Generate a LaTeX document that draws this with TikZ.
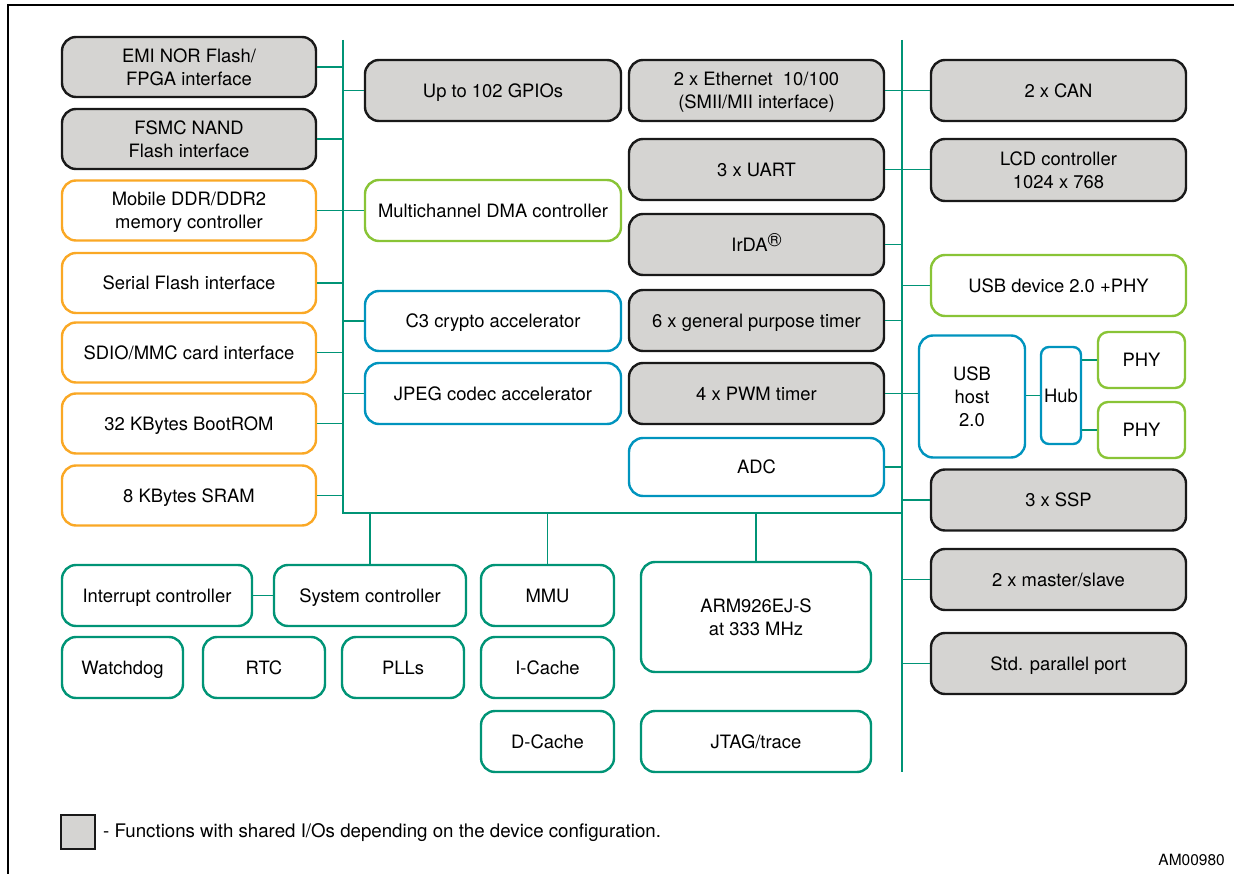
\documentclass[tikz,border=0pt]{standalone}
\usepackage{fontspec}
\setmainfont{TeX Gyre Heros}
\usetikzlibrary{calc}

\definecolor{busteal}{RGB}{0,148,118}
\definecolor{sharedgray}{RGB}{213,212,210}
\definecolor{memorange}{RGB}{250,168,37}
\definecolor{dmagreen}{RGB}{137,196,54}
\definecolor{accblue}{RGB}{0,148,190}

\begin{document}
\begin{tikzpicture}[x=1pt, y=-1pt,
  blk/.style={draw, rounded corners=14pt, line width=2.4pt, align=center,
              inner sep=0pt, text depth=0pt, font=\fontsize{18.4}{23}\selectfont},
  shared/.style={blk, draw=black!90, fill=sharedgray},
  memif/.style={blk, draw=memorange, fill=white},
  dmabox/.style={blk, draw=dmagreen, fill=white},
  accbox/.style={blk, draw=accblue, fill=white},
  corebox/.style={blk, draw=busteal, fill=white},
  sz/.style 2 args={minimum width=#1pt, minimum height=#2pt},
  bus/.style={draw=busteal, line width=1.9pt},
  link/.style={draw=busteal, line width=1.6pt}]

\useasboundingbox (0,0) rectangle (1234,874);

% outer frame (top and left edges)
\draw[line width=2.2pt] (8,874) -- (8,5) -- (1234,5);

% left column: external memory interfaces
\node[shared, sz={254}{60}] (emi)    at (189,67)    {EMI NOR Flash/\\FPGA interface};
\node[shared, sz={254}{60}] (fsmc)   at (189,139)   {FSMC NAND\\Flash interface};
\node[memif,  sz={254}{60}] (ddr)    at (189,210.5) {Mobile DDR/DDR2\\memory controller};
\node[memif,  sz={254}{60}] (sflash) at (189,283)   {Serial Flash interface};
\node[memif,  sz={254}{60}] (sdio)   at (189,352.5) {SDIO/MMC card interface};
\node[memif,  sz={254}{60}] (brom)   at (189,423.5) {32 KBytes BootROM};
\node[memif,  sz={254}{60}] (sram)   at (189,495.5) {8 KBytes SRAM};

% inner left column
\node[shared, sz={256}{61}] (gpio) at (493,90.5)  {Up to 102 GPIOs};
\node[dmabox, sz={256}{61}] (dma)  at (493,210.5) {Multichannel DMA controller};
\node[accbox, sz={256}{60}] (c3)   at (493,321)   {C3 crypto accelerator};
\node[accbox, sz={256}{61}] (jpeg) at (493,393.5) {JPEG codec accelerator};

% inner right column
\node[shared, sz={255}{61}] (eth)  at (756.5,90.5)  {2 x Ethernet \ 10/100\\(SMII/MII interface)};
\node[shared, sz={255}{61}] (uart) at (756.5,169.5) {3 x UART};
\node[shared, sz={255}{61}] (irda) at (756.5,244.5) {IrDA\smash{\raisebox{4.5pt}{\fontsize{19}{19}\selectfont ®}}};
\node[shared, sz={255}{61}] (gpt)  at (756.5,320.5) {6 x general purpose timer};
\node[shared, sz={255}{61}] (pwm)  at (756.5,393.5) {4 x PWM timer};
\node[accbox, sz={255}{58}] (adc)  at (756.5,467)   {ADC};

% right column: peripherals
\node[shared,  sz={255}{61}] (can)   at (1058.5,90.5)  {2 x CAN};
\node[shared,  sz={255}{62}] (lcd)   at (1058.5,170)   {LCD controller\\1024 x 768};
\node[dmabox,  sz={255}{61}] (usbd)  at (1058.5,285.5) {USB device 2.0 +PHY};
\node[accbox,  sz={106}{122}] (usbh) at (972,396.5)    {USB\\host\\2.0};
\node[accbox,  sz={40}{97}, rounded corners=8pt] (hub) at (1061,395.5) {Hub};
\node[dmabox,  sz={87}{56}, rounded corners=10pt] (phya) at (1141.5,360) {PHY};
\node[dmabox,  sz={87}{56}, rounded corners=10pt] (phyb) at (1141.5,430) {PHY};
\node[shared,  sz={255}{61}] (ssp)   at (1058.5,500)   {3 x SSP};
\node[shared,  sz={255}{61}] (ms)    at (1058.5,579.5) {2 x master/slave};
\node[shared,  sz={255}{61}] (pport) at (1058.5,663.5) {Std. parallel port};

% core block
\node[corebox, sz={190}{61}]  (intc)   at (157,595.5)   {Interrupt controller};
\node[corebox, sz={192}{61}]  (sysc)   at (370,595.5)   {System controller};
\node[corebox, sz={121}{61}]  (wdog)   at (122.5,667.5) {Watchdog};
\node[corebox, sz={122}{61}]  (rtc)    at (264,667.5)   {RTC};
\node[corebox, sz={122}{61}]  (plls)   at (403,667.5)   {PLLs};
\node[corebox, sz={133}{61}]  (mmu)    at (547.5,595.5) {MMU};
\node[corebox, sz={133}{61}]  (icache) at (547.5,667.5) {I-Cache};
\node[corebox, sz={133}{61}]  (dcache) at (547.5,741.5) {D-Cache};
\node[corebox, sz={230}{110}] (arm)    at (756,617)     {ARM926EJ-S\\at 333 MHz};
\node[corebox, sz={230}{61}]  (jtag)   at (756,741.5)   {JTAG/trace};

% bus frame
\coordinate (busL)  at (343,40);
\coordinate (busLB) at (343,513);
\coordinate (busRB) at (902,513);
\coordinate (busR)  at (902,40);
\coordinate (busRE) at (902,772);
\draw[bus] (busL) -- (busLB) -- (busRB);
\draw[bus] (busR) -- (busRE);

% left bus taps
\foreach \n in {emi,fsmc,sflash,sdio,brom,sram}
  \draw[link] (\n.east) -- (\n.east -| busL);
\draw[link] (ddr.east) -- (dma.west);
\foreach \n in {gpio,c3,jpeg}
  \draw[link] (\n.west -| busL) -- (\n.west);

% right bus taps
\draw[link] (eth.east) -- (can.west);
\draw[link] (uart.east) -- (lcd.west |- uart.east);
\foreach \n in {irda,gpt,pwm,adc}
  \draw[link] (\n.east) -- (\n.east -| busR);
\foreach \n in {usbd,ssp,ms,pport}
  \draw[link] (\n.west -| busR) -- (\n.west);
\draw[link] (pwm.east -| busR) -- (usbh.west |- pwm.east);

% USB host chain
\draw[link] (usbh.east |- hub.west) -- (hub.west);
\draw[link] (hub.east |- phya.west) -- (phya.west);
\draw[link] (hub.east |- phyb.west) -- (phyb.west);

% core block taps
\draw[link] (intc.east) -- (sysc.west);
\draw[link] (sysc.north |- busLB) -- (sysc.north);
\draw[link] (mmu.north |- busLB) -- (mmu.north);
\draw[link] (arm.north |- busLB) -- (arm.north);

% legend
\node[draw=black!90, fill=sharedgray, line width=2.6pt, minimum size=34pt, inner sep=0pt] (legbox) at (78,832) {};
\node[anchor=west, inner sep=0pt, font=\fontsize{18.7}{22}\selectfont] (legtext) at (103,833)
  {- Functions with shared I/Os depending on the device configuration.};
\node[anchor=east, inner sep=0pt, font=\fontsize{15.5}{18}\selectfont] (figid) at (1225,860) {AM00980};
\end{tikzpicture}
\end{document}
